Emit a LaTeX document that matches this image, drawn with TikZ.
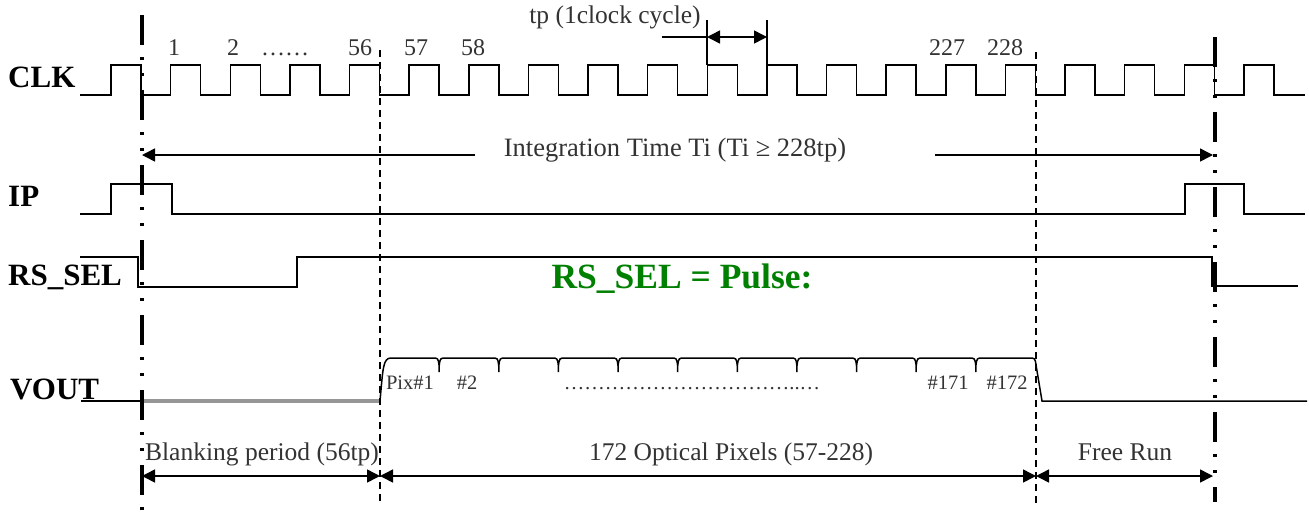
\documentclass[tikz,border=0pt]{standalone}
\usepackage{fontspec}
\setmainfont{Liberation Serif}
\usetikzlibrary{arrows.meta}
\definecolor{txtgray}{RGB}{51,51,51}
\definecolor{blankgray}{RGB}{150,150,150}
\definecolor{pulsegreen}{RGB}{0,128,0}
\begin{document}
\begin{tikzpicture}[x=1pt,y=-1pt,
    sig/.style={line width=1.5pt},
    dimline/.style={line width=1.5pt,-{Triangle[length=13pt,width=13pt]}},
    dimboth/.style={line width=1.5pt,{Triangle[length=13pt,width=13pt]}-{Triangle[length=13pt,width=13pt]}},
    frameline/.style={line width=3.5pt,dash pattern=on 30pt off 12pt on 3pt off 13pt on 3pt off 14pt},
    pixline/.style={line width=1.3pt,dash pattern=on 7pt off 5pt},
    signame/.style={anchor=base west,inner sep=0pt,font=\fontsize{31}{34}\selectfont\bfseries},
    txt/.style={anchor=base,inner sep=0pt,text=txtgray,font=\fontsize{25.5}{30}\selectfont},
    num/.style={anchor=base,inner sep=0pt,text=txtgray,font=\fontsize{24}{28}\selectfont},
    pix/.style={anchor=base,inner sep=0pt,text=txtgray,font=\fontsize{20.5}{24}\selectfont}]

    \useasboundingbox (0,0) rectangle (1309,520);

    \def\p{59.63}	%clock period tp
    \def\r{111}	%first rising edge of CLK
    \def\w{30}	%high time of one clock

    %SIGNAL NAMES
    \node[signame] (lclk) at (8,87) {CLK};
    \node[signame] (lip) at (8,206) {IP};
    \node[signame] (lrs) at (8,285) {RS\_SEL};
    \node[signame] (lvout) at (10,399) {VOUT};

    %CLK
    \draw[sig] (80,95) foreach \k in {0,...,19}{
        -- ({\r+\k*\p},95) -- ({\r+\k*\p},65) -- ({\r+\k*\p+\w},65) -- ({\r+\k*\p+\w},95)
    } -- (1305,95); %end of clock loop
    \node[num] (n1) at (174,55) {1};
    \node[num] (n2) at (233,55) {2};
    \node[num] (ndots) at (285,55) {……};
    \node[num] (n56) at (360,55) {56};
    \node[num] (n57) at (416,55) {57};
    \node[num] (n58) at (473,55) {58};
    \node[num] (n227) at (947,55) {227};
    \node[num] (n228) at (1005,55) {228};

    %IP
    \draw[sig] (80,214) -- (111,214) -- (111,184) -- (172,184) -- (172,214)
        -- (1185,214) -- (1185,184) -- (1244,184) -- (1244,214) -- (1305,214);

    %RS_SEL
    \draw[sig] (80,257) -- (138,257) -- (138,287) -- (297,287) -- (297,257)
        -- (1212,257) -- (1212,286) -- (1298,286);
    \node[anchor=base,inner sep=0pt,text=pulsegreen,font=\fontsize{35.5}{40}\selectfont\bfseries]
        (pulse) at (682,288) {RS\_SEL = Pulse:};

    %VOUT
    \draw[sig] (81,401) -- (142,401);
    \draw[line width=4.5pt,blankgray] (142,401) -- (380,401);
    \draw[sig] (380,401) .. controls (383,368) and (383,358) .. (391,358)
        foreach \k in {5,...,14}{	%one notch per pixel boundary
        -- ({\r+\k*\p+\w-7},358) .. controls ({\r+\k*\p+\w-1},358) .. ({\r+\k*\p+\w},366)
        -- ({\r+\k*\p+\w},372) -- ({\r+\k*\p+\w},366)
        .. controls ({\r+\k*\p+\w+1},358) .. ({\r+\k*\p+\w+7},358)
    } -- (1029,358) .. controls (1035,358) .. (1036,365) -- (1042,401) -- (1307,401);
    \node[pix] (pix1) at (410,389) {Pix\#1};
    \node[pix] (pix2) at (467,389) {\#2};
    \node[pix] (pixdots) at (692,389) {……………………………..…};
    \node[pix] (pix171) at (948,389) {\#171};
    \node[pix] (pix172) at (1007,389) {\#172};

    %FRAME AND PIXEL MARKERS
    \coordinate (f0top) at (142,15);	\coordinate (f0bot) at (142,520);
    \coordinate (f1top) at (1215,37);	\coordinate (f1bot) at (1215,502);
    \coordinate (p0top) at (380,50);	\coordinate (p0bot) at (380,502);
    \coordinate (p1top) at (1036,52);	\coordinate (p1bot) at (1036,507);
    \draw[frameline] (f0top) -- (f0bot);
    \draw[frameline] (f1top) -- (f1bot);
    \draw[pixline] (p0top) -- (p0bot);
    \draw[pixline] (p1top) -- (p1bot);

    %tp
    \coordinate (tpA) at (707,20);	\coordinate (tpA2) at (707,65);
    \coordinate (tpB) at (767,20);	\coordinate (tpB2) at (767,65);
    \coordinate (tplead) at (662,37);
    \coordinate (tpa) at (707,37);	\coordinate (tpb) at (767,37);
    \draw[line width=1.3pt] (tpA) -- (tpA2) (tpB) -- (tpB2) (tplead) -- (tpa);
    \draw[dimboth] (tpa) -- (tpb);
    \node[txt] (tp) at (615,23) {tp (1clock cycle)};

    %INTEGRATION TIME
    \coordinate (ti0) at (142,155);	\coordinate (ti1) at (1213,155);
    \coordinate (tiL) at (475,155);	\coordinate (tiR) at (935,155);
    \node[txt,font=\fontsize{26.5}{30}\selectfont] (ti) at (675,156) {Integration Time Ti (Ti ≥ 228tp)};
    \draw[dimline] (tiL) -- (ti0);
    \draw[dimline] (tiR) -- (ti1);

    %PERIODS
    \coordinate (d0) at (142,476);	\coordinate (d1) at (380,476);
    \coordinate (d2) at (1036,476);	\coordinate (d3) at (1213,476);
    \draw[dimboth] (d0) -- (d1);
    \draw[dimboth] (d1) -- (d2);
    \draw[dimboth] (d2) -- (d3);
    \node[txt] (blank) at (262,460) {Blanking period (56tp)};
    \node[txt] (optical) at (731,460) {172 Optical Pixels (57-228)};
    \node[txt] (freerun) at (1125,460) {Free Run};
\end{tikzpicture}
\end{document}
